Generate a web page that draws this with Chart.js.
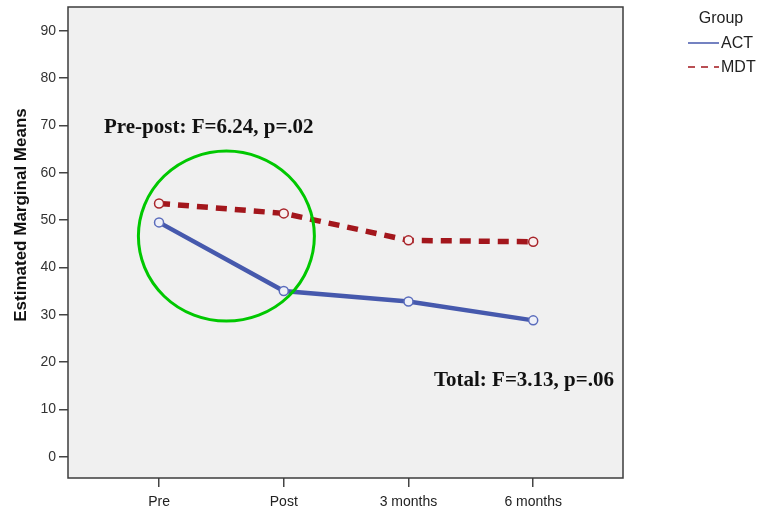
<!DOCTYPE html>
<html>
<head>
<meta charset="utf-8">
<script src="https://cdn.jsdelivr.net/npm/chart.js@4.4.0/dist/chart.umd.min.js"></script>
<style>
  body { margin: 0; background: #fff; }
  #wrap { width: 762px; height: 515px; }
</style>
</head>
<body>
<div id="wrap"><canvas id="meansChart"></canvas></div>
<script>
// data
const timepoints = ['Pre', 'Post', '3 months', '6 months'];
const actMeans = [49.5, 35.0, 32.8, 28.8];
const mdtMeans = [53.5, 51.4, 45.7, 45.4];
const yTickValues = [0, 10, 20, 30, 40, 50, 60, 70, 80, 90];
const groupNames = ['ACT', 'MDT'];

const blue = '#4659ad';
const red = '#a3161c';

// plot frame, annotations, legend and y title drawn on top of the chart
const extras = {
  id: 'extras',
  beforeDraw(chart) {
    const { ctx, chartArea: a } = chart;
    ctx.save();
    ctx.fillStyle = '#f0f0f0';
    ctx.fillRect(a.left, a.top, a.right - a.left, a.bottom - a.top);
    ctx.restore();
  },
  afterDraw(chart) {
    const { ctx, chartArea: a, scales } = chart;
    ctx.save();
    // frame
    ctx.strokeStyle = '#3c3c3c';
    ctx.lineWidth = 1.5;
    ctx.strokeRect(a.left, a.top, a.right - a.left, a.bottom - a.top);

    // green circle around pre-post change
    const cx = scales.x.getPixelForValue(0.54);
    const cy = scales.y.getPixelForValue(46.6);
    ctx.strokeStyle = '#00c800';
    ctx.lineWidth = 3;
    ctx.beginPath();
    ctx.ellipse(cx, cy, 88, 85, 0, 0, Math.PI * 2);
    ctx.stroke();

    // statistics text
    ctx.fillStyle = '#111';
    ctx.font = 'bold 21px "Liberation Serif"';
    ctx.textBaseline = 'middle';
    ctx.textAlign = 'left';
    ctx.fillText('Pre-post: F=6.24, p=.02', 104, 128);
    ctx.textAlign = 'right';
    ctx.fillText('Total: F=3.13, p=.06', 614, 381);

    // y axis title
    ctx.save();
    ctx.translate(21, 215);
    ctx.rotate(-Math.PI / 2);
    ctx.textAlign = 'center';
    ctx.font = 'bold 17px "Liberation Sans"';
    ctx.fillStyle = '#111';
    ctx.fillText('Estimated Marginal Means', 0, 0);
    ctx.restore();

    // legend
    ctx.font = '16px "Liberation Sans"';
    ctx.fillStyle = '#222';
    ctx.textAlign = 'center';
    ctx.fillText('Group', 721, 19);
    ctx.textAlign = 'left';
    const swatch = [blue, red];
    const dashes = [[], [7, 6]];
    groupNames.forEach((name, i) => {
      const y = 43 + i * 24;
      ctx.strokeStyle = swatch[i];
      ctx.lineWidth = 1.5;
      ctx.setLineDash(dashes[i]);
      ctx.beginPath();
      ctx.moveTo(688, y);
      ctx.lineTo(719, y);
      ctx.stroke();
      ctx.setLineDash([]);
      ctx.fillStyle = '#222';
      ctx.fillText(name, 721, y + 1);
    });
    ctx.restore();
  }
};

const pts = arr => arr.map((v, i) => ({ x: i, y: v }));

new Chart(document.getElementById('meansChart'), {
  type: 'line',
  data: {
    datasets: [
      {
        label: groupNames[0],
        data: pts(actMeans),
        borderColor: blue,
        borderWidth: 4.5,
        pointRadius: 4.5,
        pointBorderWidth: 1.5,
        pointBorderColor: '#5a6cbc',
        pointBackgroundColor: '#eef0f8',
        tension: 0
      },
      {
        label: groupNames[1],
        data: pts(mdtMeans),
        borderColor: red,
        borderWidth: 5.5,
        borderDash: [11, 8],
        pointRadius: 4.5,
        pointBorderWidth: 1.5,
        pointBorderColor: '#a8242a',
        pointBackgroundColor: '#f8f0f0',
        tension: 0
      }
    ]
  },
  options: {
    responsive: true,
    maintainAspectRatio: false,
    animation: false,
    layout: { padding: { left: 0, top: 7, right: 139, bottom: 0 } },
    plugins: { legend: { display: false }, tooltip: { enabled: false } },
    scales: {
      x: {
        type: 'linear',
        min: -0.73,
        max: 3.72,
        afterBuildTicks: s => { s.ticks = timepoints.map((t, i) => ({ value: i })); },
        afterFit: s => { s.height = 37; s.paddingLeft = 0; s.paddingRight = 0; },
        ticks: {
          callback: v => timepoints[v],
          color: '#222',
          font: { family: 'Liberation Sans', size: 14 },
          padding: 7,
          maxRotation: 0
        },
        grid: { drawOnChartArea: false, drawTicks: true, tickLength: 9, color: '#444', lineWidth: 1.5 },
        border: { display: false }
      },
      y: {
        min: -4.5,
        max: 95,
        afterBuildTicks: s => { s.ticks = yTickValues.map(v => ({ value: v })); },
        afterFit: s => { s.width = 68; s.paddingTop = 0; s.paddingBottom = 0; },
        ticks: {
          color: '#333',
          font: { family: 'Liberation Sans', size: 14 },
          padding: 3
        },
        grid: { drawOnChartArea: false, drawTicks: true, tickLength: 9, color: '#444', lineWidth: 1.5 },
        border: { display: false }
      }
    }
  },
  plugins: [extras]
});
</script>
</body>
</html>
